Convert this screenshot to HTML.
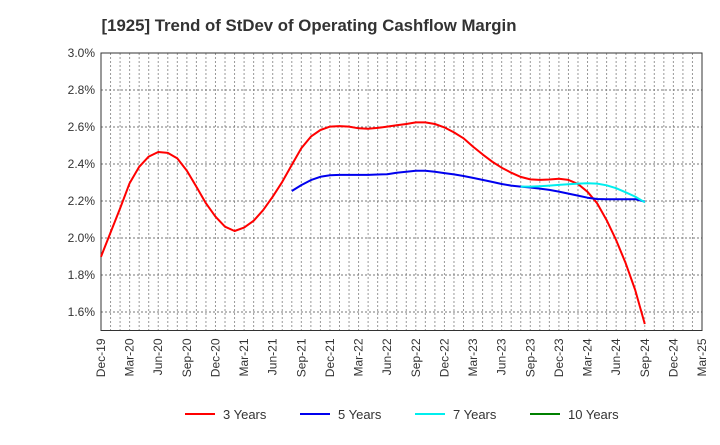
<!DOCTYPE html>
<html><head><meta charset="utf-8"><style>
body{margin:0;background:#fff;font-family:"Liberation Sans",sans-serif}
</style></head><body>
<svg id="c" width="720" height="440" xmlns="http://www.w3.org/2000/svg">
<text x="309" y="31" text-anchor="middle" font-size="16.8" font-weight="bold" fill="#333">[1925]  Trend of StDev of Operating Cashflow Margin</text>
<g id="grid"></g><g id="axes"></g><g id="series"></g><g id="legend"></g>
</svg>
<script>
const xLabels=["Dec-19","Mar-20","Jun-20","Sep-20","Dec-20","Mar-21","Jun-21","Sep-21","Dec-21","Mar-22","Jun-22","Sep-22","Dec-22","Mar-23","Jun-23","Sep-23","Dec-23","Mar-24","Jun-24","Sep-24","Dec-24","Mar-25"];
const yTicks=[1.6,1.8,2.0,2.2,2.4,2.6,2.8,3.0];
const s3=[1.899,2.029,2.16,2.296,2.385,2.44,2.465,2.46,2.43,2.364,2.277,2.188,2.115,2.061,2.038,2.056,2.093,2.151,2.223,2.304,2.395,2.485,2.548,2.584,2.602,2.605,2.602,2.593,2.591,2.595,2.602,2.609,2.616,2.625,2.625,2.616,2.598,2.571,2.539,2.494,2.452,2.413,2.38,2.353,2.33,2.317,2.314,2.316,2.32,2.314,2.292,2.25,2.188,2.097,1.989,1.863,1.719,1.535];
const s5Start=20;
const s5=[2.254,2.286,2.313,2.331,2.339,2.341,2.341,2.341,2.341,2.343,2.345,2.353,2.358,2.364,2.364,2.358,2.351,2.344,2.335,2.325,2.314,2.303,2.292,2.283,2.278,2.273,2.267,2.26,2.251,2.24,2.229,2.218,2.211,2.21,2.21,2.21,2.21,2.197];
const s7Start=44;
const s7=[2.278,2.278,2.28,2.283,2.287,2.29,2.294,2.296,2.294,2.285,2.269,2.247,2.224,2.193];
const s10=[];
const L=101,R=702,T=53,B=330.5,yMin=1.5,yMax=3.0,nM=63;
const X=m=>L+(R-L)*m/nM, Y=v=>B-(v-yMin)/(yMax-yMin)*(B-T);
const NS="http://www.w3.org/2000/svg";
function mk(t,a,p){const e=document.createElementNS(NS,t);for(const k in a)e.setAttribute(k,a[k]);p.appendChild(e);return e;}
const grid=document.getElementById('grid'),axes=document.getElementById('axes'),ser=document.getElementById('series'),leg=document.getElementById('legend');
for(let m=1;m<nM;m++){const g=mk('line',{x1:X(m),x2:X(m),y1:T,y2:B,stroke:'#999','stroke-dasharray':'2,2','stroke-width':1},grid);

}
yTicks.forEach(v=>{const g=mk('line',{x1:L,x2:R,y1:Y(v),y2:Y(v),stroke:'#777','stroke-dasharray':'2,2','stroke-width':1},grid);


const t=mk('text',{x:L-6,y:Y(v)+4,'text-anchor':'end','font-size':12,fill:'#333'},axes);t.textContent=v.toFixed(1)+'%';

});
const fr=mk('rect',{x:L,y:T,width:R-L,height:B-T,fill:'none',stroke:'#333','stroke-width':1},axes);


xLabels.forEach((lb,i)=>{const x=X(i*3);const t=mk('text',{transform:`translate(${x+4},${B+8}) rotate(-90)`,'text-anchor':'end','font-size':12,fill:'#333'},axes);t.textContent=lb;

});
function line(arr,start,color,name){if(!arr.length)return;const d=arr.map((v,i)=>(i?'L':'M')+X(start+i).toFixed(1)+','+Y(v).toFixed(1)).join('');
const p=mk('path',{d:d,fill:'none',stroke:color,'stroke-width':2,'stroke-linejoin':'round'},ser);

}
line(s3,0,'#ff0000','series-3-years');
line(s5,s5Start,'#0000ee','series-5-years');
line(s7,s7Start,'#00eeee','series-7-years');
line(s10,0,'#008000','series-10-years');
const items=[["3 Years","#ff0000",185],["5 Years","#0000ee",300],["7 Years","#00eeee",415],["10 Years","#008000",530]];
items.forEach(([n,c,x])=>{const g=mk('g',{},leg);


mk('line',{x1:x,x2:x+30,y1:414,y2:414,stroke:c,'stroke-width':2},g);
const t=mk('text',{x:x+38,y:419,'font-size':13,fill:'#333'},g);t.textContent=n;});
</script>
</body></html>
